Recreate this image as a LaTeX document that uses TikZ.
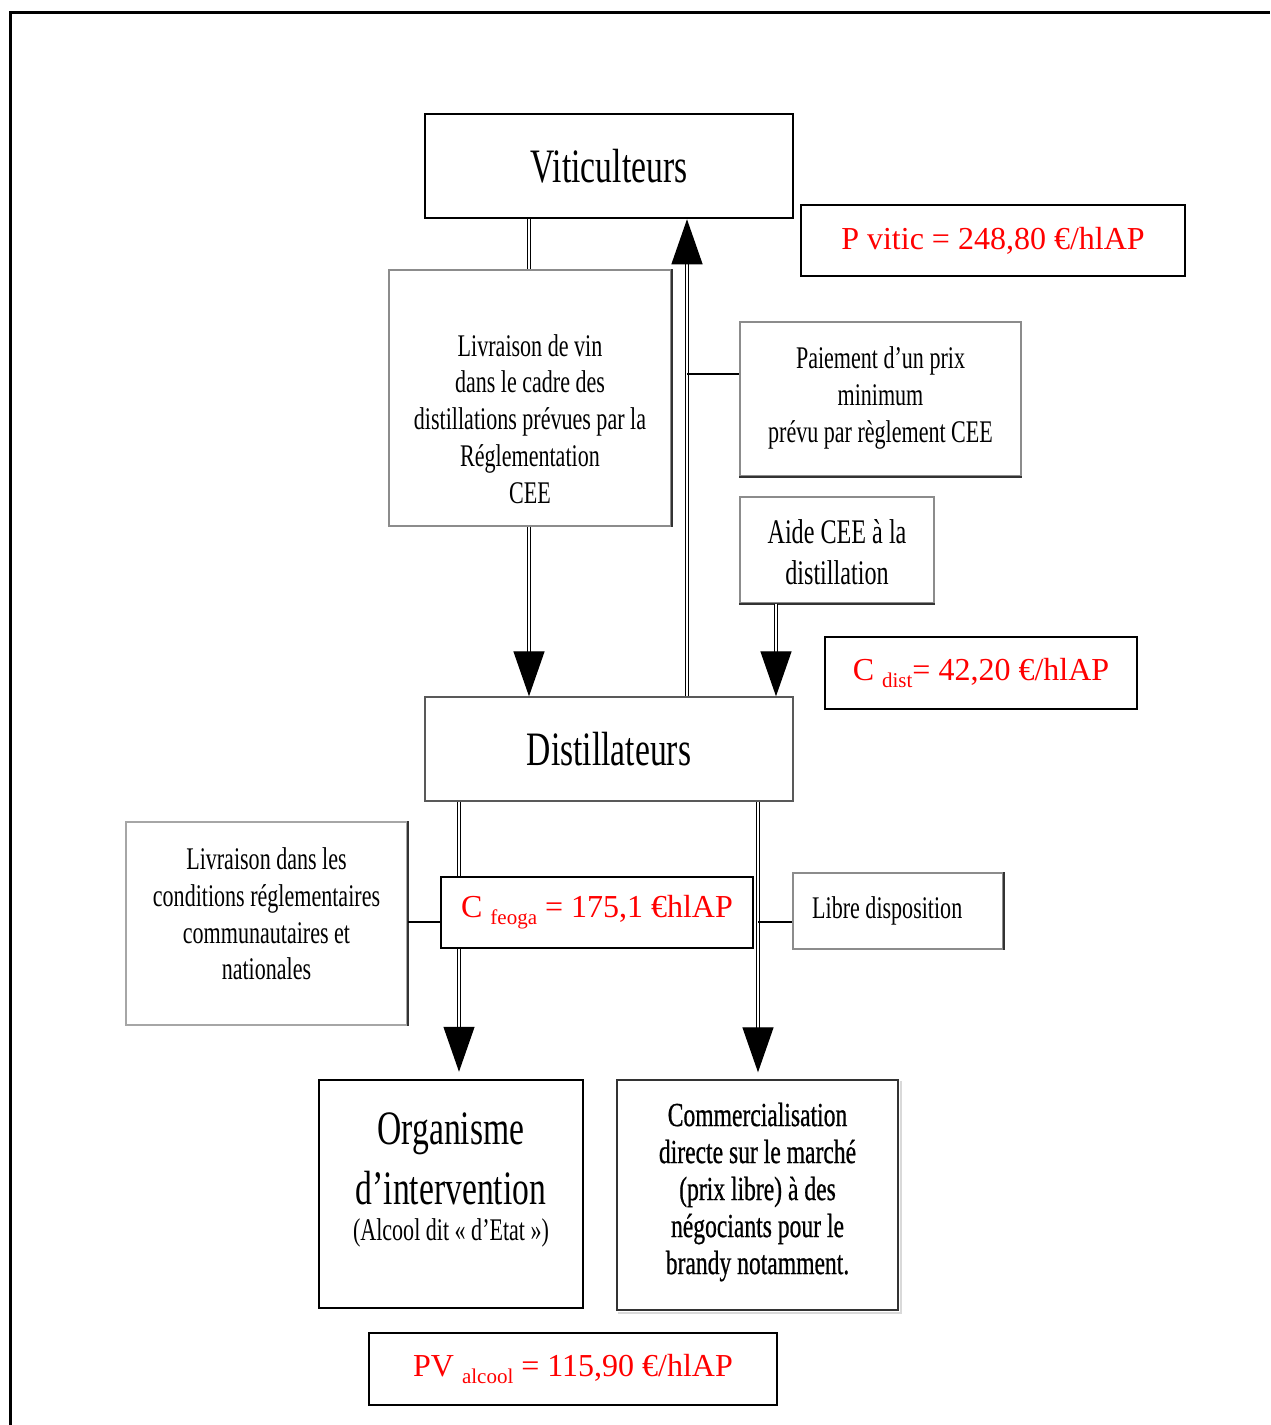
\documentclass[tikz,border=0pt]{standalone}
\usepackage{fontspec}
\setmainfont{Liberation Serif}
\newfontfamily\cnd[FakeStretch=0.7]{Liberation Serif}
\newfontfamily\cndb[FakeStretch=0.7,FakeBold=0.6]{Liberation Serif}
\usetikzlibrary{arrows.meta}
\begin{document}
\begin{tikzpicture}[x=1pt,y=-1pt,
  bbox/.style={draw=black,line width=2.5pt,fill=white,inner sep=0pt},
  gbox/.style={draw=black!45,line width=1.4pt,fill=white,inner sep=0pt},
  rbox/.style={draw=black,line width=2pt,fill=white,inner sep=0pt,text=red,font=\fontsize{32}{36}\selectfont},
  txt/.style={inner sep=0pt,align=center,font=\cnd\fontsize{31.5}{36.8}\selectfont},
  big/.style={inner sep=0pt,font=\cnd\fontsize{48}{55}\selectfont},
  dline/.style={draw=black,line width=1.3pt,double=white,double distance=2.2pt},
  arr/.style={dline,-{Triangle[length=45pt,width=31pt]}},
  thinl/.style={draw=black,line width=1.3pt},
  shade/.style={draw=black!80,line width=1.6pt}]
\useasboundingbox (0,0) rectangle (1270,1425);
\fill[white] (0,0) rectangle (1270,1425);
% outer frame
\draw[line width=3pt] (10,1425) -- (10,12) -- (1270,12);

% boxes
\node[bbox,big,minimum width=368pt,minimum height=104pt] (vit) at (609,166) {Viticulteurs};
\node[rbox,minimum width=384pt,minimum height=71pt] (pvit) at (993,240.5) {P vitic = 248,80 €/hlAP};

\node[gbox,minimum width=282pt,minimum height=256pt] (liv) at (530,398) {};
\node[txt] (livT) at (530,419) {Livraison de vin\\dans le cadre des\\distillations prévues par la\\Réglementation\\CEE};

\node[gbox,minimum width=281pt,minimum height=154pt] (paie) at (880.5,399) {};
\node[txt] (paieT) at (880.5,398) {Paiement d’un prix\\minimum\\prévu par règlement CEE};

\node[gbox,minimum width=194pt,minimum height=106pt] (aide) at (837,550) {};
\node[txt,font=\cnd\fontsize{34.5}{41}\selectfont] (aideT) at (837,552) {Aide CEE à la\\distillation};

\node[rbox,minimum width=312pt,minimum height=72pt] (cdist) at (981,673) {C \raisebox{-7pt}{\fontsize{21}{21}\selectfont dist}= 42,20 €/hlAP};

\node[gbox,draw=black!65,big,minimum width=368pt,minimum height=104pt] (dist) at (609,749) {Distillateurs};

\node[gbox,draw=black!35,minimum width=281pt,minimum height=203pt] (left) at (266.5,923.5) {};
\node[txt] (leftT) at (266.5,914) {Livraison dans les\\conditions réglementaires\\communautaires et\\nationales};

\node[gbox,minimum width=210pt,minimum height=76pt] (libre) at (898,911) {};
\node[txt,anchor=west] (libreT) at (812,911) {Libre disposition};

\node[bbox,minimum width=264pt,minimum height=228pt] (org) at (451,1194) {};
\node[big] (orgA) at (451,1134) {Organisme};
\node[big] (orgB) at (451,1188) {d’intervention};
\node[txt] (orgC) at (451,1233) {(Alcool dit « d’Etat »)};

\node[gbox,draw=black!80,minimum width=281pt,minimum height=230pt] (com) at (757.5,1195) {};
\node[txt,font=\cndb\fontsize{33.7}{37}\selectfont] (comT) at (757.5,1192) {Commercialisation\\directe sur le marché\\(prix libre) à des\\négociants pour le\\brandy notamment.};

\node[rbox,minimum width=408pt,minimum height=72pt] (pv) at (573,1369) {PV \raisebox{-7pt}{\fontsize{21}{21}\selectfont alcool} = 115,90 €/hlAP};

% box shading edges
\draw[shade] (liv.north east) -- (liv.south east);
\draw[shade] (paie.south west) -- (paie.south east);
\draw[shade] (aide.south west) -- (aide.south east);
\draw[shade] (left.north east) -- (left.south east);
\draw[shade] (libre.north east) -- (libre.south east);
\draw[draw=black!15,line width=2pt] ([xshift=2pt,yshift=-2pt]com.north east) -- ([xshift=2pt,yshift=-2pt]com.south east) -- ([xshift=2pt,yshift=-2pt]com.south west);

% connectors
\coordinate (xa) at (529,0);
\coordinate (xb) at (687,0);
\coordinate (xc) at (776,0);
\coordinate (xd) at (459,0);
\coordinate (xe) at (758,0);
\draw[dline] (vit.south -| xa) -- (liv.north -| xa);
\draw[arr] (liv.south -| xa) -- (dist.north -| xa);
\draw[arr] (dist.north -| xb) -- (vit.south -| xb);
\coordinate (pj) at (687,374);
\draw[thinl] (pj) -- (paie.west |- pj);
\draw[arr] (aide.south -| xc) -- (dist.north -| xc);
\draw[arr,shorten >=7pt] (dist.south -| xd) -- (org.north -| xd);
\draw[arr,shorten >=7pt] (dist.south -| xe) -- (com.north -| xe);
\coordinate (fj) at (459,922);
\coordinate (gj) at (758,922);
\draw[thinl] (left.east |- fj) -- (fj);
\draw[thinl] (gj) -- (libre.west |- gj);

% feoga box on top of the left line
\node[rbox,minimum width=312pt,minimum height=71pt] (feoga) at (597,912.5) {C \raisebox{-7pt}{\fontsize{21}{21}\selectfont feoga} = 175,1 €hlAP};
\end{tikzpicture}
\end{document}
